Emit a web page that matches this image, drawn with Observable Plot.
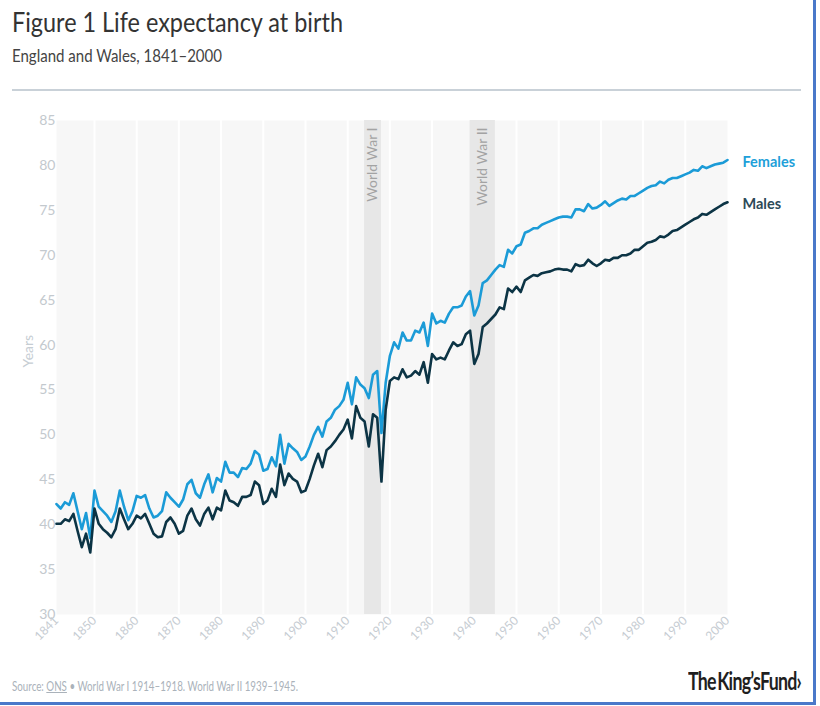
<!DOCTYPE html>
<html>
<head>
<meta charset="utf-8">
<script src="https://cdn.jsdelivr.net/npm/d3@7"></script>
<script src="https://cdn.jsdelivr.net/npm/@observablehq/plot@0.6"></script>
<style>
  html, body { margin: 0; padding: 0; background: #fff; }
  #wrap { position: relative; width: 813px; height: 702px; border-right: 3px solid #4a78c9; border-bottom: 3px solid #4a78c9; overflow: visible; font-family: Lato, "Noto Sans", sans-serif; }
  .t { position: absolute; white-space: nowrap; line-height: 1; transform-origin: 0 0; }
  #title { left: 12px; top: 9px; font-size: 26px; color: #333; font-weight: 400; }
  #subtitle { left: 12px; top: 47px; font-size: 17px; color: #444; }
  #rule { position: absolute; left: 12px; top: 89px; width: 789px; height: 2px; background: #c9d1d8; }
  #chart { position: absolute; left: 0; top: 100px; width: 820px; height: 560px; }
  #chart svg { max-width: none !important; }
  #source { left: 12px; top: 680px; font-size: 13px; color: #aab2ba; }
  #source u { text-decoration-color: #aab2ba; }
  #logo { left: 688px; top: 669px; font-size: 24px; font-weight: 700; color: #1f1f1f; letter-spacing: -1px; word-spacing: -3px; }
</style>
</head>
<body>
<div id="wrap">
  <div class="t" id="title">Figure 1 Life expectancy at birth</div>
  <div class="t" id="subtitle">England and Wales, 1841–2000</div>
  <div id="rule"></div>
  <div id="chart"></div>
  <div class="t" id="source">Source: <u>ONS</u> • World War I 1914–1918. World War II 1939–1945.</div>
  <div class="t" id="logo">The King’sFund›</div>
</div>
<script>
const startYear = 1841;

const females = [
  42.3, 41.8, 42.5, 42.2, 43.5, 41.5, 39.5, 41.3, 38.5, 43.8,
  42.0, 41.5, 41.0, 40.3, 41.5, 43.8, 42.0, 40.5, 41.5, 43.2,
  43.0, 43.3, 41.8, 40.8, 41.0, 41.5, 43.6, 43.0, 42.5, 42.0,
  42.8, 44.5, 45.0, 43.5, 43.0, 44.5, 45.6, 43.6, 45.2, 44.8,
  47.0, 45.8, 45.8, 45.3, 46.3, 46.2, 46.8, 48.2, 47.8, 46.0,
  46.2, 47.5, 46.5, 50.0, 46.8, 49.0, 48.5, 48.1, 47.2, 47.6,
  48.7, 50.0, 50.9, 49.8, 51.5, 51.9, 52.8, 53.2, 53.9, 55.8,
  53.4, 56.4, 55.6, 55.2, 54.1, 56.7, 57.1, 50.2, 55.8, 58.8,
  60.3, 59.6, 61.4, 60.5, 60.5, 61.6, 61.4, 62.5, 59.9, 63.5,
  62.4, 62.7, 62.5, 63.5, 64.2, 64.2, 64.4, 65.4, 66.0, 63.3,
  64.4, 66.9, 67.2, 67.8, 68.4, 68.9, 68.7, 70.6, 70.2, 71.0,
  71.2, 72.5, 72.7, 73.0, 73.0, 73.4, 73.6, 73.8, 74.0, 74.2,
  74.3, 74.3, 74.2, 75.1, 75.1, 74.9, 75.7, 75.2, 75.3, 75.6,
  76.0, 75.5, 75.8, 76.1, 76.3, 76.2, 76.6, 76.6, 76.9, 77.2,
  77.5, 77.7, 77.8, 78.2, 78.0, 78.4, 78.6, 78.6, 78.8, 79.0,
  79.2, 79.5, 79.4, 79.9, 79.7, 79.9, 80.1, 80.2, 80.3, 80.6
];

const males = [
  40.1, 40.1, 40.6, 40.4, 41.2, 39.3, 37.5, 39.0, 36.9, 41.8,
  40.1, 39.5, 39.1, 38.6, 39.5, 41.8, 40.6, 39.5, 40.1, 41.0,
  40.7, 41.2, 40.1, 39.0, 38.6, 38.7, 40.3, 40.8, 40.1, 39.0,
  39.3, 41.0, 41.8, 40.6, 39.9, 41.2, 41.9, 40.6, 41.9, 41.6,
  43.8, 42.7, 42.5, 42.1, 43.1, 43.1, 43.3, 44.8, 44.4, 42.3,
  42.7, 44.0, 43.1, 46.7, 44.4, 45.7, 45.1, 44.8, 43.6, 43.8,
  45.1, 46.6, 47.9, 46.4, 48.3, 48.7, 49.3, 50.0, 50.6, 51.7,
  49.6, 53.2, 51.9, 51.5, 48.7, 52.3, 51.9, 44.8, 52.8, 56.0,
  56.4, 56.2, 57.3, 56.4, 56.6, 57.1, 56.7, 58.1, 55.8, 59.0,
  58.4, 58.6, 58.4, 59.4, 60.3, 59.9, 60.1, 61.2, 61.6, 57.9,
  59.0, 62.0, 62.4, 62.9, 63.4, 64.2, 64.0, 66.3, 65.9, 66.5,
  65.9, 67.2, 67.5, 67.8, 67.7, 68.0, 68.1, 68.2, 68.4, 68.5,
  68.4, 68.4, 68.2, 69.0, 68.8, 68.9, 69.5, 69.1, 68.8, 69.1,
  69.5, 69.4, 69.7, 69.7, 70.0, 70.0, 70.2, 70.6, 70.6, 71.0,
  71.4, 71.5, 71.7, 72.1, 72.0, 72.3, 72.7, 72.8, 73.1, 73.4,
  73.7, 74.0, 74.2, 74.6, 74.5, 74.8, 75.1, 75.4, 75.7, 75.9
];

const gridYears = [1850, 1860, 1870, 1880, 1890, 1900, 1910, 1920, 1930, 1940, 1950, 1960, 1970, 1980, 1990];
const xTicks = [1841, 1850, 1860, 1870, 1880, 1890, 1900, 1910, 1920, 1930, 1940, 1950, 1960, 1970, 1980, 1990, 2000];
const yTicks = [30, 35, 40, 45, 50, 55, 60, 65, 70, 75, 80, 85];

const warLabels = ["World War I", "World War II"];
const warStart = [1914, 1939];
const warEnd = [1918, 1945];

const seriesNames = ["Females", "Males"];
const lineColors = ["#1b9bd7", "#0c3445"];
const labelColors = ["#1ea0d9", "#2c4a58"];

const years = d3.range(startYear, startYear + females.length);
const rowsF = years.map((year, i) => ({ year, value: females[i] }));
const rowsM = years.map((year, i) => ({ year, value: males[i] }));
const wars = warLabels.map((label, i) => ({ label, start: warStart[i], end: warEnd[i], mid: (warStart[i] + warEnd[i]) / 2 }));
const lastRows = [rowsF[rowsF.length - 1], rowsM[rowsM.length - 1]].map((d, i) => ({ ...d, name: seriesNames[i], color: labelColors[i] }));

const chart = Plot.plot({
  width: 820,
  height: 560,
  marginTop: 20,
  marginBottom: 46,
  marginLeft: 56,
  marginRight: 93,
  style: { fontFamily: "Lato, 'Noto Sans', sans-serif", background: "transparent", overflow: "visible", maxWidth: "none" },
  x: { domain: [1841, 2000] },
  y: { domain: [30, 85] },
  marks: [
    Plot.frame({ fill: "#f7f7f7", stroke: "none" }),
    Plot.ruleX(gridYears, { stroke: "#ffffff", strokeWidth: 2 }),
    Plot.rect(wars, { x1: "start", x2: "end", fill: "#e7e7e7" }),
    Plot.text(wars, { x: "mid", y: 85, text: "label", rotate: -90, textAnchor: "end", dy: 7, fill: "#a3a3a3", fontSize: 14 }),
    Plot.axisY({ ticks: yTicks, tickSize: 0, tickPadding: 1, fontSize: 14, fill: "#c3c9ce", label: null }),
    Plot.axisX({ ticks: xTicks, tickFormat: d => String(d), tickSize: 0, tickPadding: 4, tickRotate: -45, fontSize: 12, fill: "#c6ccd2", label: null }),
    Plot.text(["Years"], { frameAnchor: "left", text: d => d, rotate: -90, dx: -28, fill: "#c6cdd3", fontSize: 14 }),
    Plot.line(rowsF, { x: "year", y: "value", stroke: lineColors[0], strokeWidth: 2.6, strokeLinejoin: "round" }),
    Plot.line(rowsM, { x: "year", y: "value", stroke: lineColors[1], strokeWidth: 2.6, strokeLinejoin: "round" }),
    Plot.text(lastRows, { x: "year", y: "value", text: "name", fill: "color", textAnchor: "start", dx: 15, dy: 2, fontSize: 14.5, fontWeight: "bold" })
  ]
});
document.getElementById("chart").appendChild(chart);

function fit(id, target) {
  const el = document.getElementById(id);
  el.style.transform = "none";
  const w = el.getBoundingClientRect().width;
  if (w > 0) el.style.transform = `scaleX(${target / w})`;
}
function fitAll() {
  fit("title", 331);
  fit("subtitle", 210);
  fit("source", 286);
  fit("logo", 113);
}
fitAll();
if (document.fonts && document.fonts.ready) document.fonts.ready.then(fitAll);
</script>
</body>
</html>
